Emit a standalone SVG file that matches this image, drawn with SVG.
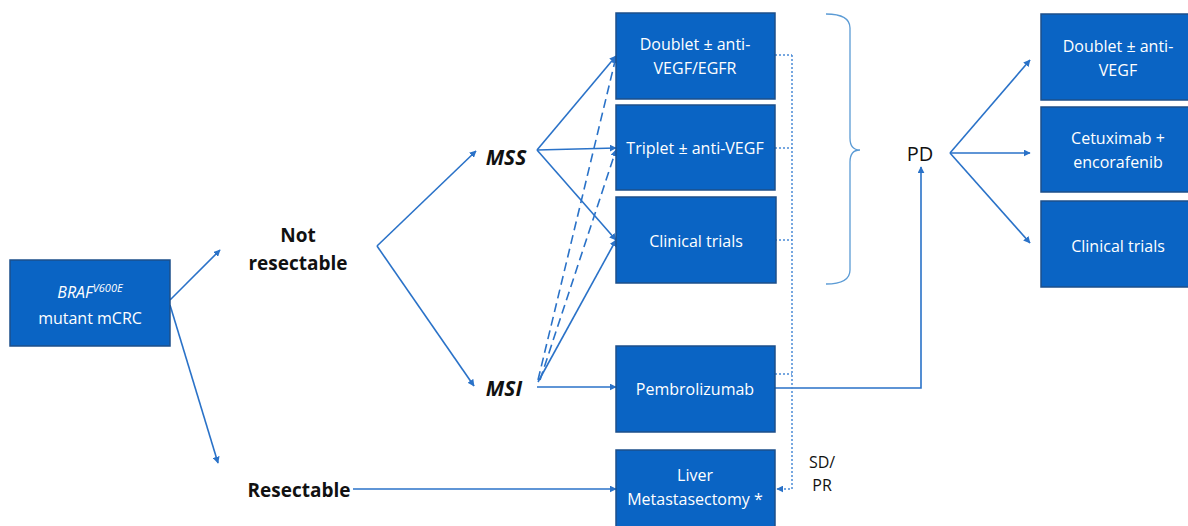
<svg xmlns="http://www.w3.org/2000/svg" width="1188" height="526" viewBox="0 0 1188 526">
<defs>
<style>
.box{fill:#0a64c4;stroke:#1d4f8a;stroke-width:1.5}
.bt{font-family:"Open Sans","Liberation Sans",sans-serif;font-size:16px;fill:#ffffff;text-anchor:middle}
.lbl{font-family:"Open Sans","Liberation Sans",sans-serif;font-size:19px;font-weight:bold;fill:#111111;text-anchor:middle}
.ital{font-size:21px;font-style:italic}
.ln{fill:none;stroke:#2a72c8;stroke-width:1.6}
.dash{fill:none;stroke:#2a72c8;stroke-width:1.6;stroke-dasharray:9 5}
.dot{fill:none;stroke:#4a8ad6;stroke-width:1.5;stroke-dasharray:2 2}
</style>
<marker id="ah" viewBox="0 0 10 10" refX="9" refY="5" markerWidth="7" markerHeight="7" orient="auto" markerUnits="userSpaceOnUse">
<path d="M0,0 L10,5 L0,10 z" fill="#2a72c8"/>
</marker>
</defs>
<rect width="1188" height="526" fill="#ffffff"/>
<g id="connectors">
<line class="ln" x1="170" y1="300" x2="220" y2="250" marker-end="url(#ah)"/>
<line class="ln" x1="170" y1="305" x2="218" y2="463" marker-end="url(#ah)"/>
<line class="ln" x1="377" y1="246" x2="476" y2="151" marker-end="url(#ah)"/>
<line class="ln" x1="377" y1="246" x2="474" y2="386" marker-end="url(#ah)"/>
<line class="ln" x1="537" y1="150" x2="616" y2="56" marker-end="url(#ah)"/>
<line class="ln" x1="537" y1="150" x2="616" y2="148" marker-end="url(#ah)"/>
<line class="ln" x1="537" y1="150" x2="616" y2="240" marker-end="url(#ah)"/>
<line class="ln" x1="538" y1="382" x2="616" y2="240" marker-end="url(#ah)"/>
<line class="dash" x1="538" y1="380" x2="616" y2="57" marker-end="url(#ah)"/>
<line class="dash" x1="540" y1="380" x2="616" y2="150" marker-end="url(#ah)"/>
<line class="ln" x1="537" y1="387" x2="616" y2="387" marker-end="url(#ah)"/>
<line class="ln" x1="353" y1="489" x2="616" y2="489" marker-end="url(#ah)"/>
<polyline class="ln" points="775,388 921,388 921,167" marker-end="url(#ah)"/>
<line class="dot" x1="775" y1="55" x2="792" y2="55"/>
<line class="dot" x1="775" y1="148" x2="792" y2="148"/>
<line class="dot" x1="775" y1="240" x2="792" y2="240"/>
<line class="dot" x1="775" y1="374" x2="792" y2="374"/>
<polyline class="dot" points="792,55 792,489 777,489" marker-end="url(#ah)"/>
<path d="M826,14 Q850,14 850,28 L850,138 Q850,150 860,150 Q850,150 850,162 L850,270 Q850,284 826,284" fill="none" stroke="#5b9bd5" stroke-width="1.3"/>
<line class="ln" x1="950" y1="153" x2="1030" y2="60" marker-end="url(#ah)"/>
<line class="ln" x1="950" y1="153" x2="1030" y2="153" marker-end="url(#ah)"/>
<line class="ln" x1="950" y1="153" x2="1030" y2="243" marker-end="url(#ah)"/>
</g>
<g id="braf"><rect class="box" x="10" y="260" width="160" height="86"/>
<text class="bt" x="90" y="298"><tspan font-style="italic">BRAF</tspan><tspan font-style="italic" style="font-size:11px" dy="-6">V600E</tspan></text>
<text class="bt" x="90" y="324">mutant mCRC</text></g>
<g id="notres"><text class="lbl" x="298" y="242">Not</text><text class="lbl" x="298" y="270">resectable</text></g>
<g id="res"><text class="lbl" x="299" y="497">Resectable</text></g>
<g id="mss"><text class="lbl ital" x="506" y="165">MSS</text></g>
<g id="msi"><text class="lbl ital" x="504" y="396">MSI</text></g>
<g id="doublet1"><rect class="box" x="616" y="13" width="159" height="86"/><text class="bt" x="695" y="50">Doublet ± anti-</text><text class="bt" x="695" y="74">VEGF/EGFR</text></g>
<g id="triplet"><rect class="box" x="616" y="105" width="159" height="85"/><text class="bt" x="695" y="154">Triplet ± anti-VEGF</text></g>
<g id="clin1"><rect class="box" x="616" y="197" width="160" height="86"/><text class="bt" x="696" y="247">Clinical trials</text></g>
<g id="pembro"><rect class="box" x="616" y="346" width="159" height="86"/><text class="bt" x="695" y="395">Pembrolizumab</text></g>
<g id="liver"><rect class="box" x="616" y="450" width="159" height="80"/><text class="bt" x="695" y="481">Liver</text><text class="bt" x="695" y="505">Metastasectomy *</text></g>
<g id="sdpr"><text x="822" y="468" font-family="'Open Sans','Liberation Sans',sans-serif" font-size="16" fill="#111" text-anchor="middle">SD/</text><text x="822" y="491" font-family="'Open Sans','Liberation Sans',sans-serif" font-size="16" fill="#111" text-anchor="middle">PR</text></g>
<g id="pd"><text x="920" y="161" font-family="'Open Sans','Liberation Sans',sans-serif" font-size="20" fill="#111" text-anchor="middle">PD</text></g>
<g id="doublet2"><rect class="box" x="1041" y="14" width="150" height="86"/><text class="bt" x="1118" y="52">Doublet ± anti-</text><text class="bt" x="1118" y="76">VEGF</text></g>
<g id="cetux"><rect class="box" x="1041" y="107" width="150" height="85"/><text class="bt" x="1118" y="144">Cetuximab +</text><text class="bt" x="1118" y="168">encorafenib</text></g>
<g id="clin2"><rect class="box" x="1041" y="201" width="150" height="86"/><text class="bt" x="1118" y="252">Clinical trials</text></g>
</svg>
